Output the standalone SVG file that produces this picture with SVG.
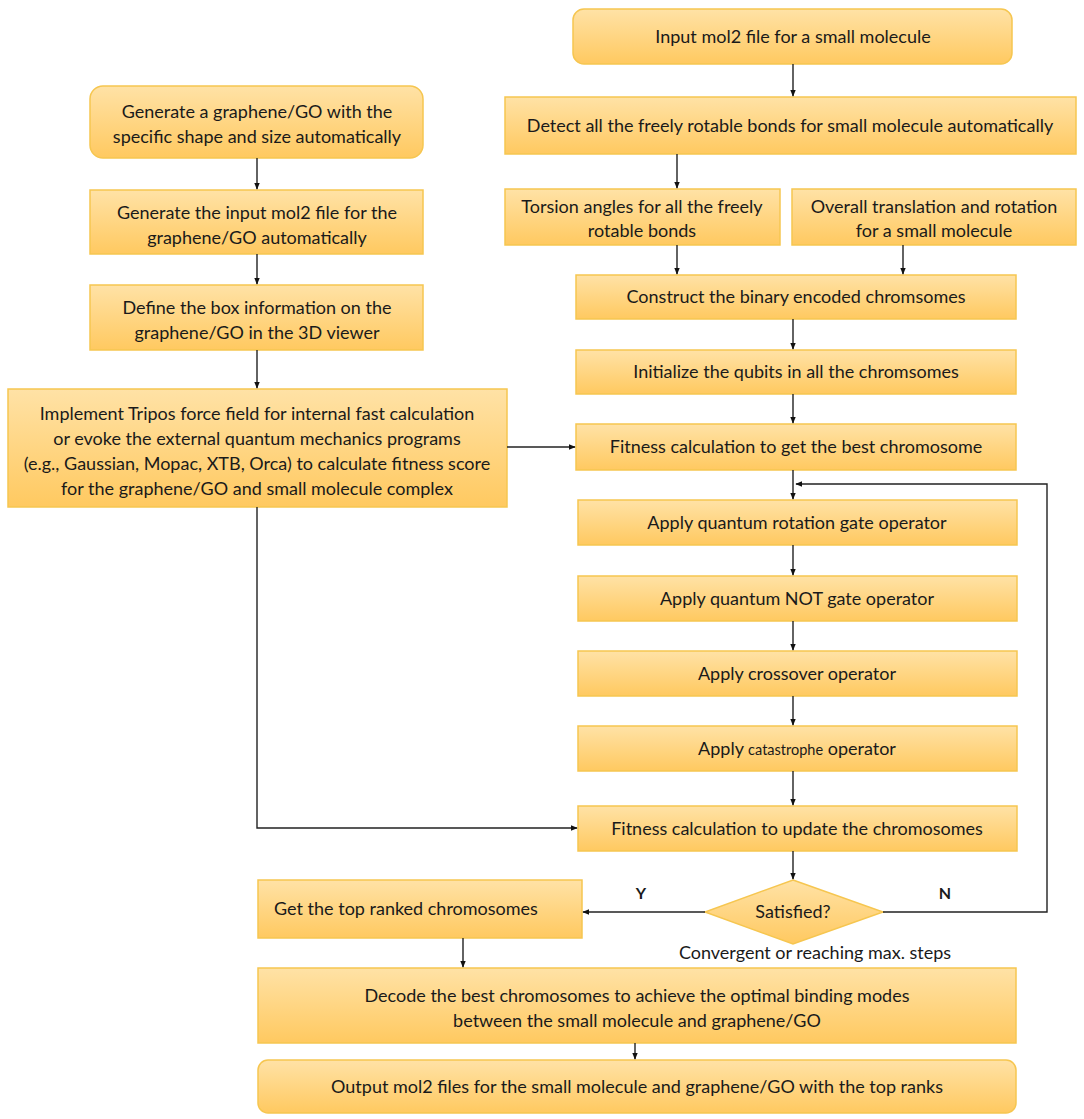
<svg xmlns="http://www.w3.org/2000/svg" width="1084" height="1119" viewBox="0 0 1084 1119">
<defs>
<linearGradient id="g" x1="0" y1="0" x2="0" y2="1">
<stop offset="0" stop-color="#FFE2A6"/>
<stop offset="1" stop-color="#FFC960"/>
</linearGradient>
<marker id="ah" viewBox="0 0 10 10" refX="9" refY="5" markerWidth="7" markerHeight="7" markerUnits="userSpaceOnUse" orient="auto">
<path d="M0,1 L10,5 L0,9 z" fill="#111"/>
</marker>
<style>
.b{fill:url(#g);stroke:#F6C650;stroke-width:1.5}
.t{font-family:Lato,"Noto Sans",sans-serif;font-size:18px;fill:#1a1a1a;text-anchor:middle}
.c{fill:none;stroke:#222;stroke-width:1.4;marker-end:url(#ah)}
.l{font-family:Lato,"Noto Sans",sans-serif;font-size:16px;font-weight:bold;fill:#1a1a1a;text-anchor:middle}
</style>
</defs>
<rect width="1084" height="1119" fill="#fff"/>

<g id="n1"><rect class="b" x="90" y="86" width="333" height="72" rx="13"/>
<text class="t" x="257" y="118">Generate a graphene/GO with the</text>
<text class="t" x="257" y="143">specific shape and size automatically</text></g>
<g id="n2"><rect class="b" x="90" y="190" width="333" height="64"/>
<text class="t" x="257" y="219">Generate the input mol2 file for the</text>
<text class="t" x="257" y="244">graphene/GO automatically</text></g>
<g id="n3"><rect class="b" x="90" y="285" width="333" height="65"/>
<text class="t" x="257" y="314">Define the box information on the</text>
<text class="t" x="257" y="339">graphene/GO in the 3D viewer</text></g>
<g id="n4"><rect class="b" x="8" y="389" width="499" height="118"/>
<text class="t" x="257" y="420">Implement Tripos force field for internal fast calculation</text>
<text class="t" x="257" y="445">or evoke the external quantum mechanics programs</text>
<text class="t" x="257" y="470">(e.g., Gaussian, Mopac, XTB, Orca)  to calculate fitness score</text>
<text class="t" x="257" y="495">for the graphene/GO and small molecule complex</text></g>

<g id="nA"><rect class="b" x="573" y="9" width="439" height="55" rx="11"/>
<text class="t" x="793" y="43">Input mol2 file for a small molecule</text></g>
<g id="nB"><rect class="b" x="505" y="97" width="571" height="57"/>
<text class="t" x="790" y="132">Detect all the freely rotable bonds for small molecule automatically</text></g>
<g id="nC"><rect class="b" x="505" y="189" width="275" height="56"/>
<text class="t" x="642" y="213">Torsion angles for all the freely</text>
<text class="t" x="642" y="237">rotable bonds</text></g>
<g id="nD"><rect class="b" x="792" y="189" width="284" height="56"/>
<text class="t" x="934" y="213">Overall translation and rotation</text>
<text class="t" x="934" y="237">for a small molecule</text></g>
<g id="nE"><rect class="b" x="576" y="275" width="440" height="44"/>
<text class="t" x="796" y="303">Construct the binary encoded chromsomes</text></g>
<g id="nF"><rect class="b" x="576" y="350" width="440" height="44"/>
<text class="t" x="796" y="378">Initialize the qubits in all the chromsomes</text></g>
<g id="nG"><rect class="b" x="576" y="424" width="440" height="46"/>
<text class="t" x="796" y="453">Fitness calculation to get the best chromosome</text></g>
<g id="nH"><rect class="b" x="578" y="500" width="439" height="45"/>
<text class="t" x="797" y="529">Apply quantum rotation gate operator</text></g>
<g id="nI"><rect class="b" x="578" y="576" width="439" height="45"/>
<text class="t" x="797" y="605">Apply quantum NOT gate operator</text></g>
<g id="nJ"><rect class="b" x="578" y="651" width="439" height="45"/>
<text class="t" x="797" y="680">Apply crossover operator</text></g>
<g id="nK"><rect class="b" x="578" y="726" width="439" height="45"/>
<text class="t" x="797" y="755">Apply <tspan font-size="14.5px">catastrophe</tspan> operator</text></g>
<g id="nL"><rect class="b" x="578" y="806" width="439" height="45"/>
<text class="t" x="797" y="835">Fitness calculation to update the chromosomes</text></g>
<g id="nM"><polygon class="b" points="793,880 883,912 793,944 705,912"/>
<text class="t" x="793" y="918">Satisfied?</text></g>
<g id="nN"><rect class="b" x="258" y="880" width="324" height="58"/>
<text class="t" x="406" y="915">Get the top ranked chromosomes</text></g>
<g id="nO"><rect class="b" x="258" y="968" width="758" height="75"/>
<text class="t" x="637" y="1002">Decode the best chromosomes to achieve the optimal binding modes</text>
<text class="t" x="637" y="1027">between the small molecule and graphene/GO</text></g>
<g id="nP"><rect class="b" x="258" y="1060" width="758" height="53" rx="10"/>
<text class="t" x="637" y="1093">Output mol2 files for the small molecule and graphene/GO with the top ranks</text></g>

<g id="connectors">
<line class="c" x1="257" y1="158" x2="257" y2="189"/>
<line class="c" x1="257" y1="254" x2="257" y2="284"/>
<line class="c" x1="257" y1="350" x2="257" y2="388"/>
<line class="c" x1="507" y1="447" x2="575" y2="447"/>
<polyline class="c" points="257,507 257,828 577,828"/>
<line class="c" x1="793" y1="64" x2="793" y2="96"/>
<line class="c" x1="677" y1="154" x2="677" y2="188"/>
<line class="c" x1="677" y1="245" x2="677" y2="274"/>
<line class="c" x1="903" y1="245" x2="903" y2="274"/>
<line class="c" x1="793" y1="319" x2="793" y2="349"/>
<line class="c" x1="793" y1="394" x2="793" y2="423"/>
<line class="c" x1="793" y1="470" x2="793" y2="499"/>
<line class="c" x1="793" y1="545" x2="793" y2="575"/>
<line class="c" x1="793" y1="621" x2="793" y2="650"/>
<line class="c" x1="793" y1="696" x2="793" y2="725"/>
<line class="c" x1="793" y1="771" x2="793" y2="805"/>
<line class="c" x1="793" y1="851" x2="793" y2="879"/>
<polyline class="c" points="883,912 1047,912 1047,484 796,484"/>
<line class="c" x1="705" y1="912" x2="583" y2="912"/>
<line class="c" x1="463" y1="938" x2="463" y2="967"/>
<line class="c" x1="635" y1="1043" x2="635" y2="1059"/>
</g>
<text class="l" x="641" y="899">Y</text>
<text class="l" x="945" y="899">N</text>
<text class="t" x="815" y="959">Convergent or reaching max. steps</text>
</svg>
